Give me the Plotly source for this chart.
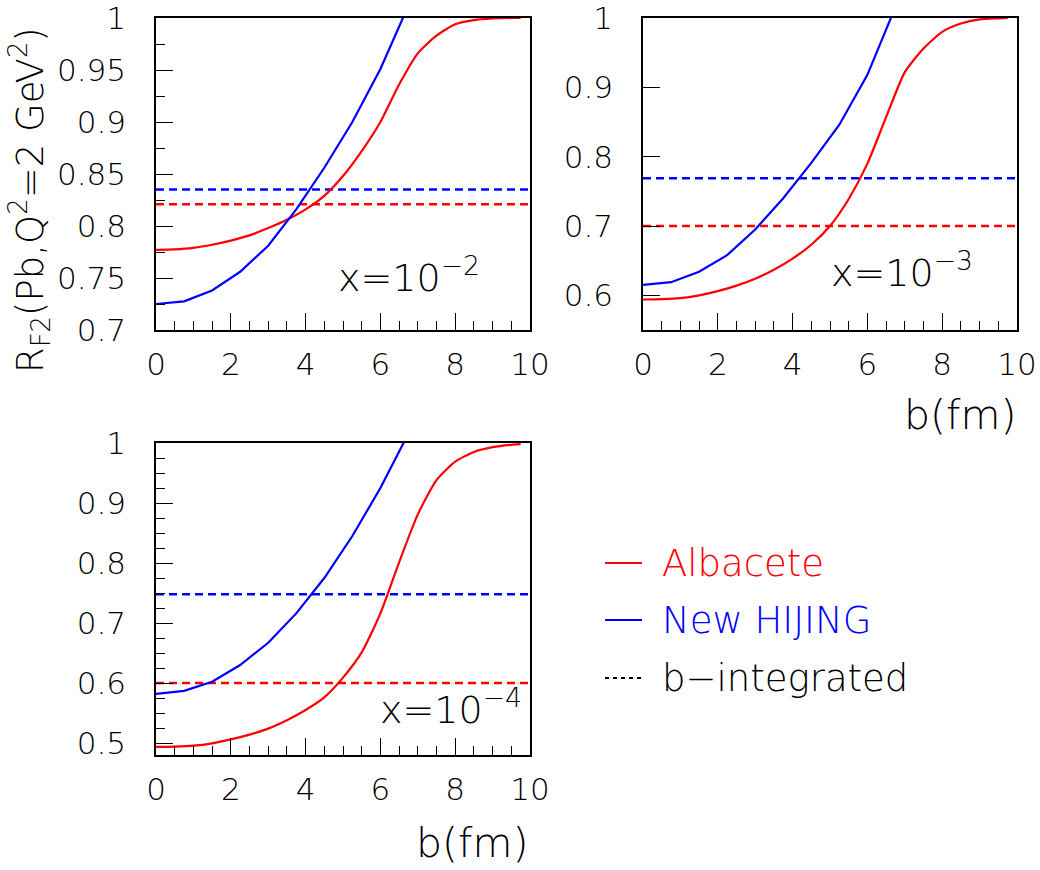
import plotly.graph_objects as go

# ---------------- data ----------------
b_red = [0, 0.5, 1, 1.5, 2, 2.5, 3, 3.5, 4, 4.5, 5, 5.5, 6, 6.5, 7, 7.5, 8, 8.5, 9, 9.5, 9.75]
b_blue = [0, 0.75, 1.5, 2.25, 3.0, 3.75, 4.5, 5.25, 6.0, 6.75]
b_flat = [0, 10]

red_x2 = [0.777, 0.7775, 0.779, 0.782, 0.786, 0.791, 0.798, 0.806, 0.816, 0.829, 0.848,
          0.872, 0.900, 0.936, 0.966, 0.983, 0.994, 0.998, 0.9995, 1.0, 1.0]
red_x3 = [0.594, 0.5945, 0.596, 0.600, 0.606, 0.614, 0.624, 0.637, 0.653, 0.673, 0.700,
          0.739, 0.790, 0.857, 0.922, 0.956, 0.980, 0.992, 0.998, 0.9995, 1.0]
red_x4 = [0.4935, 0.494, 0.4955, 0.4995, 0.506, 0.514, 0.524, 0.538, 0.555, 0.576, 0.609,
          0.651, 0.716, 0.801, 0.881, 0.938, 0.969, 0.985, 0.993, 0.997, 0.998]

blue_x2 = [0.725, 0.7275, 0.738, 0.756, 0.781, 0.816, 0.856, 0.900, 0.951, 1.012]
blue_x3 = [0.615, 0.619, 0.634, 0.658, 0.695, 0.740, 0.791, 0.846, 0.918, 1.016]
blue_x4 = [0.582, 0.587, 0.602, 0.630, 0.667, 0.716, 0.775, 0.845, 0.925, 1.016]

red_int = [0.821, 0.700, 0.600]     # b-integrated Albacete
blue_int = [0.835, 0.769, 0.748]    # b-integrated New HIJING

panel_labels = ["x=10<sup>−2</sup>", "x=10<sup>−3</sup>", "x=10<sup>−4</sup>"]
legend_labels = ["Albacete", "New HIJING", "b−integrated"]

# ---------------- style ----------------
FONT = "DejaVu Sans"
WEIGHT = 200
RED = "#ff0000"
BLUE = "#0000ff"
W, H = 1040, 870

fig = go.Figure()

panels = [
    dict(xa="x", ya="y", red=red_x2, blue=blue_x2),
    dict(xa="x2", ya="y2", red=red_x3, blue=blue_x3),
    dict(xa="x3", ya="y3", red=red_x4, blue=blue_x4),
]
for i, p in enumerate(panels):
    fig.add_trace(go.Scatter(x=b_flat, y=[red_int[i]] * 2, mode="lines", xaxis=p["xa"], yaxis=p["ya"],
                             line=dict(color=RED, width=2.5, dash="8px,5px"), showlegend=False))
    fig.add_trace(go.Scatter(x=b_flat, y=[blue_int[i]] * 2, mode="lines", xaxis=p["xa"], yaxis=p["ya"],
                             line=dict(color=BLUE, width=2.5, dash="8px,5px"), showlegend=False))
    fig.add_trace(go.Scatter(x=b_red, y=p["red"], mode="lines", xaxis=p["xa"], yaxis=p["ya"],
                             line=dict(color=RED, width=2.2, shape="spline", smoothing=0.6), showlegend=False))
    fig.add_trace(go.Scatter(x=b_blue, y=p["blue"], mode="lines", xaxis=p["xa"], yaxis=p["ya"],
                             line=dict(color=BLUE, width=2.2), showlegend=False))


def px_x(v):
    return v / W


def px_y(v):
    return 1 - v / H


def F(size, color="black"):
    return dict(family=FONT, size=size, color=color, weight=WEIGHT)


tickfont = F(31)

xdoms = [[px_x(156), px_x(530)], [px_x(643), px_x(1017)], [px_x(156), px_x(530)]]
ydoms = [[px_y(330), px_y(18)], [px_y(330), px_y(18)], [px_y(755), px_y(443)]]
yranges = [[0.7, 1.000001], [0.55, 1.000001], [0.48, 1.000001]]
ydticks = [0.05, 0.1, 0.1]
yminor = [0.025, None, 0.025]

layout = dict(
    width=W, height=H, margin=dict(l=0, r=0, t=0, b=0, autoexpand=False),
    paper_bgcolor="white", plot_bgcolor="white", showlegend=False,
    font=F(20),
)
for i in range(3):
    sx = "" if i == 0 else str(i + 1)
    layout["xaxis" + sx] = dict(
        domain=xdoms[i], range=[0, 10.00001], anchor="y" + sx, tick0=0, dtick=2,
        ticks="inside", ticklen=17, tickcolor="black", tickwidth=1,
        showline=True, mirror=True, linecolor="black", linewidth=1.5,
        showgrid=False, zeroline=False, tickfont=tickfont, ticklabelstandoff=6,
        automargin=False, ticklabeloverflow="allow",
        minor=dict(dtick=0.5, ticks="inside", ticklen=9, tickcolor="black", tickwidth=1, showgrid=False),
    )
    yd = dict(
        domain=ydoms[i], range=yranges[i], anchor="x" + sx, tick0=0, dtick=ydticks[i],
        ticks="inside", ticklen=17, tickcolor="black", tickwidth=1,
        showline=True, mirror=True, linecolor="black", linewidth=1.5,
        showgrid=False, zeroline=False, tickfont=tickfont, ticklabelstandoff=22,
        automargin=False, ticklabeloverflow="allow",
    )
    if yminor[i]:
        yd["minor"] = dict(dtick=yminor[i], ticks="inside", ticklen=9, tickcolor="black",
                           tickwidth=1, showgrid=False)
    layout["yaxis" + sx] = yd

fig.update_layout(**layout)

annotations = []
# panel labels
label_pos = [(482, 302), (975, 297), (524, 734)]
for (xp, yp), txt in zip(label_pos, panel_labels):
    annotations.append(dict(x=px_x(xp), y=px_y(yp), xref="paper", yref="paper", text=txt,
                            showarrow=False, xanchor="right", yanchor="bottom", font=F(38)))
# axis titles
annotations.append(dict(x=px_x(1018), y=px_y(415), xref="paper", yref="paper", text="b(fm)",
                        showarrow=False, xanchor="right", yanchor="middle", font=F(41)))
annotations.append(dict(x=px_x(530), y=px_y(843), xref="paper", yref="paper", text="b(fm)",
                        showarrow=False, xanchor="right", yanchor="middle", font=F(41)))
annotations.append(dict(x=px_x(30), y=px_y(200), xref="paper", yref="paper",
                        text="R<sub>F2</sub>(Pb,Q<sup>2</sup>=2 GeV<sup>2</sup>)",
                        showarrow=False, textangle=-90, xanchor="center", yanchor="middle", font=F(37)))

# legend
leg_y = [563, 620, 678]
leg_col = [RED, BLUE, "black"]
leg_dash = ["solid", "solid", "4px,4px"]
shapes = []
for yy, txt, col, dsh in zip(leg_y, legend_labels, leg_col, leg_dash):
    shapes.append(dict(type="line", xref="paper", yref="paper", x0=px_x(605), x1=px_x(642),
                       y0=px_y(yy), y1=px_y(yy), line=dict(color=col, width=2, dash=dsh)))
    annotations.append(dict(x=px_x(660), y=px_y(yy), xref="paper", yref="paper", text=txt,
                            showarrow=False, xanchor="left", yanchor="middle", font=F(37, col)))

fig.update_layout(annotations=annotations, shapes=shapes)
fig.write_html("out.html")
